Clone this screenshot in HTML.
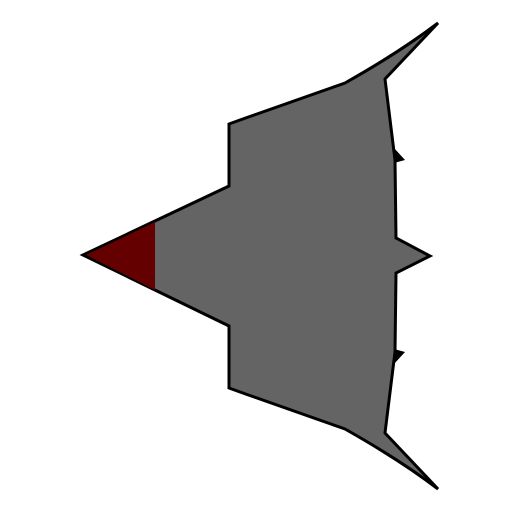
<!DOCTYPE html>
<html><head><meta charset="utf-8"><style>html,body{margin:0;padding:0;background:#fff;width:512px;height:512px;overflow:hidden}</style></head>
<body>
<svg width="512" height="512" viewBox="0 0 512 512">
<path fill="#646464" stroke="#000" stroke-width="3" stroke-linejoin="miter"
d="M83,255 L229,186 L229,124 L240,120 L345,83 Q400,52 438,23 L385,79 L395,160 L396,238 L430,256 L396,273 L395,352 L385,433 L438,489 Q400,460 345,429 L240,392 L229,388 L229,326 Z"/>
<path fill="#640000" d="M86,255 L155,222 L155,290 Z"/>
<path fill="#000" d="M394,148 L405,160 L394,163 Z"/>
<path fill="#000" d="M394,364 L405,352 L394,349 Z"/>
</svg>
</body></html>
